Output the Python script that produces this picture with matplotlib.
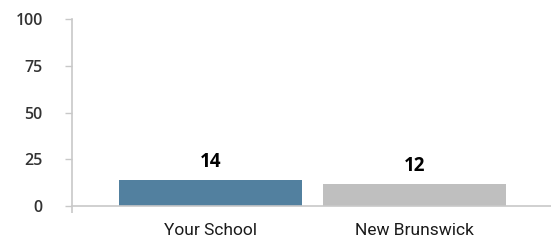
import matplotlib
matplotlib.use('Agg')
import matplotlib.pyplot as plt

categories = ['Your School', 'New Brunswick']
values = [14, 12]
bar_colors = ['#52809f', '#bfbfbf']
y_ticks = [0, 25, 50, 75, 100]

fig = plt.figure(figsize=(5.51, 2.43), dpi=100)
ax = fig.add_axes([0.1307, 0.152, 0.8693, 0.770])

x = list(range(len(categories)))
bars = ax.bar(x, values, width=0.9, color=bar_colors)

for b, v in zip(bars, values):
    ax.text(b.get_x() + b.get_width() / 2, v + 4, str(v), ha='center', va='bottom',
            fontsize=13.5, fontweight='bold', color='black', family='Open Sans')

ax.set_xlim(-0.68, 1.67)
ax.set_ylim(0, 100)
ax.set_yticks(y_ticks)
ax.set_yticklabels([str(t) for t in y_ticks], family='Open Sans', fontsize=11.5,
                   fontweight='semibold', color='#333333')
ax.set_xticks(x)
ax.set_xticklabels(categories, family='Roboto', fontsize=12.5, color='#1a1a1a')
ax.set_xticks([-0.68], minor=True)

for s in ['top', 'right']:
    ax.spines[s].set_visible(False)
for s in ['left', 'bottom']:
    ax.spines[s].set_color('#c8c8c8')
    ax.spines[s].set_linewidth(1.2)

ax.tick_params(axis='y', length=5, width=1, color='#c8c8c8', pad=16)
ax.tick_params(axis='x', which='major', length=0, pad=12)
ax.tick_params(axis='x', which='minor', length=5, width=1.2, color='#c8c8c8')

fig.savefig('out.png', dpi=100)
